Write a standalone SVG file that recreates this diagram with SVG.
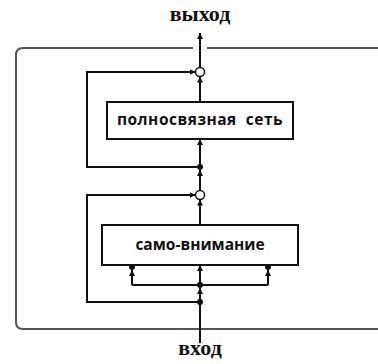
<svg xmlns="http://www.w3.org/2000/svg" width="378" height="364" viewBox="0 0 378 364">
<style>
.frame{fill:none;stroke:#555;stroke-width:2}
.box rect{fill:#fff;stroke:#111;stroke-width:2}
.box text{font-family:"Open Sans","DejaVu Sans",sans-serif;font-weight:700;font-size:15.5px;fill:#111;text-anchor:middle;white-space:pre}
.io{font-family:"Liberation Serif","Times New Roman",serif;font-weight:700;font-size:22px;fill:#111;text-anchor:middle}
.c path{fill:none;stroke:#111;stroke-width:2}
.c .a{marker-end:url(#ah)}
.dot{fill:#111}
.sum{fill:#fff;stroke:#111;stroke-width:1.5}
</style>
<defs>
<marker id="ah" viewBox="0 0 10 10" refX="10" refY="5" markerWidth="3" markerHeight="3" orient="auto" markerUnits="strokeWidth">
<path d="M0,0 L10,5 L0,10 z" fill="#111"/>
</marker>
</defs>
<rect width="378" height="364" fill="#fff"/>
<path class="frame" d="M193,48 H23 Q16,48 16,55 V322 Q16,329 23,329 H378 M207,48 H378"/>
<text class="io" x="200" y="21">выход</text>
<text class="io" x="200" y="355">вход</text>
<g id="connectors" class="c">
<path d="M200,343 V302"/>
<path class="a" d="M200,302 V288"/>
<path class="a" d="M200,285 V265"/>
<path d="M132,285 H268"/>
<path class="a" d="M132,285 V270"/>
<path class="a" d="M268,285 V270"/>
<path class="a" d="M200,302 H87 V195 H195.5"/>
<path class="a" d="M200,225 V199.5"/>
<path class="a" d="M200,190.5 V170"/>
<path class="a" d="M200,167 V139"/>
<path class="a" d="M200,167 H87 V72 H195.5"/>
<path class="a" d="M200,102 V76.5"/>
<path class="a" d="M200,67.5 V33"/>
<circle class="dot" cx="200" cy="302" r="3"/>
<circle class="dot" cx="200" cy="285" r="3"/>
<circle class="dot" cx="132" cy="267" r="3"/>
<circle class="dot" cx="268" cy="267" r="3"/>
<circle class="dot" cx="200" cy="167" r="3"/>
</g>
<g id="sum1"><circle class="sum" cx="200" cy="195" r="4.5"/></g>
<g id="sum2"><circle class="sum" cx="200" cy="72" r="4.5"/></g>
<g id="self-attention" class="box">
<rect x="102" y="225" width="196" height="40"/>
<text x="200" y="250">само-внимание</text>
</g>
<g id="ffn" class="box">
<rect x="107" y="102" width="186" height="37"/>
<text x="200" y="125" letter-spacing="0.5">полносвязная  сеть</text>
</g>
</svg>
